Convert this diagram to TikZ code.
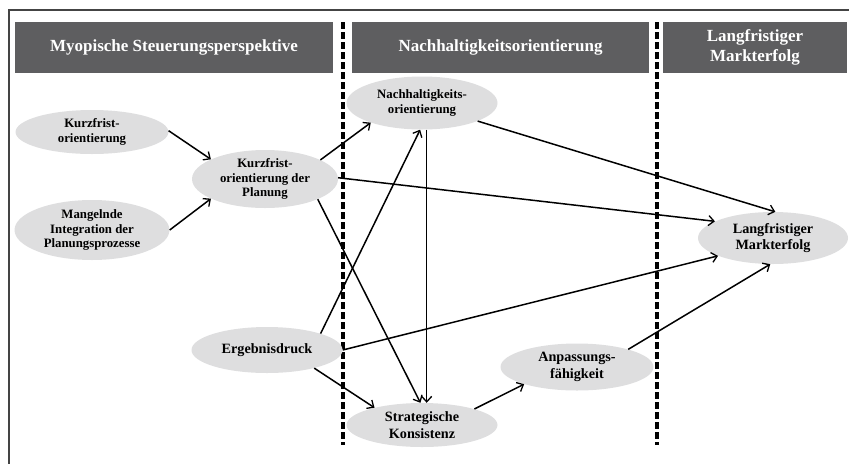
\documentclass[tikz,border=0pt]{standalone}
\usepackage{fontspec}
\setmainfont{Liberation Serif}
\usetikzlibrary{shapes.geometric,arrows.meta}
\definecolor{hdr}{RGB}{94,94,96}
\definecolor{ell}{RGB}{222,222,223}
\definecolor{frm}{RGB}{68,68,68}
\begin{document}
\begin{tikzpicture}[x=1pt,y=-1pt,
  hdrbox/.style={rectangle, fill=hdr, text=white, inner sep=0pt, align=center,
    font=\fontsize{17}{20.5}\selectfont\bfseries},
  ellnode/.style={ellipse, fill=ell, inner sep=0pt, align=center},
  smalltxt/.style={font=\fontsize{12.8}{14.5}\selectfont\bfseries},
  bigtxt/.style={font=\fontsize{14.2}{16.5}\selectfont\bfseries},
  conn/.style={line width=1.5pt, -{Straight Barb[length=5.5pt,width=10pt,line width=1.3pt]}},
  divider/.style={line width=3.5pt, dash pattern=on 7pt off 3pt},
  framel/.style={line width=2pt, draw=frm}]
\useasboundingbox (0,0) rectangle (849,464);
% frame
\coordinate (ftl) at (9,9.5);
\coordinate (ftr) at (849,9.5);
\coordinate (fbl) at (9,464);
\draw[framel] (ftr) -- (ftl) -- (fbl);
% headers
\node[hdrbox, minimum width=318pt, minimum height=51pt] (h1) at (174,47.5) {Myopische Steuerungsperspektive};
\node[hdrbox, minimum width=297pt, minimum height=51pt] (h2) at (500.5,47.5) {Nachhaltigkeitsorientierung};
\node[hdrbox, minimum width=184pt, minimum height=51pt] (h3) at (755,47.5) {Langfristiger\\Markterfolg};
% dividers
\coordinate (d1t) at (343,22); \coordinate (d1b) at (343,445);
\coordinate (d2t) at (657,22); \coordinate (d2b) at (657,445);
\draw[divider] (d1t) -- (d1b);
\draw[divider] (d2t) -- (d2b);
% nodes
\node[ellnode, smalltxt, minimum width=153pt, minimum height=44pt] (k1) at (92,132) {Kurzfrist-\\orientierung};
\node[ellnode, smalltxt, minimum width=155pt, minimum height=60pt] (mi) at (92,230) {Mangelnde\\Integration der\\Planungsprozesse};
\node[ellnode, smalltxt, minimum width=146pt, minimum height=58pt] (plan) at (265,179) {Kurzfrist-\\orientierung der\\Planung};
\node[ellnode, smalltxt, minimum width=151pt, minimum height=53pt] (nach) at (422,103) {Nachhaltigkeits-\\orientierung};
\node[ellnode, bigtxt, minimum width=150pt, minimum height=52pt] (lang) at (773,238) {Langfristiger\\Markterfolg};
\node[ellnode, bigtxt, minimum width=151pt, minimum height=46pt] (erg) at (267,350) {Ergebnisdruck};
\node[ellnode, bigtxt, minimum width=151pt, minimum height=44pt] (strat) at (422,425) {Strategische\\Konsistenz};
\node[ellnode, bigtxt, minimum width=153pt, minimum height=47pt] (anp) at (577,367) {Anpassungs-\\fähigkeit};
% connectors
\draw[conn] (k1.1.5) -- (plan.160);
\draw[conn] (mi.0) -- (plan.200);
\draw[conn] (plan.19) -- (nach.201);
\draw[conn] (plan.1) -- (lang.164);
\draw[conn] (plan.-21) -- (strat.94);
\draw[conn] (nach.-80) -- (nach.-80 |- strat.north);
\draw[conn] (nach.-18) -- (lang.85);
\draw[conn] (erg.17) -- (nach.266);
\draw[conn] (erg.0) -- (lang.198);
\draw[conn] (erg.-21) -- (strat.160);
\draw[conn] (strat.17) -- (anp.198);
\draw[conn] (anp.19) -- (lang.264);
\end{tikzpicture}
\end{document}
